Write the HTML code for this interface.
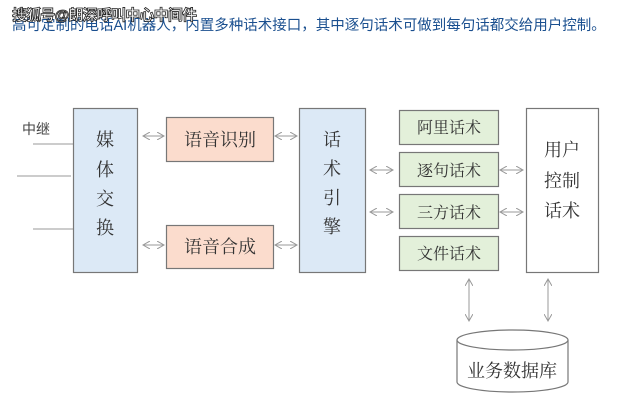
<!DOCTYPE html>
<html><head><meta charset="utf-8"><style>
body{margin:0;width:620px;height:408px;background:#fff;overflow:hidden;position:relative;font-family:"Liberation Sans","Noto Sans CJK SC",sans-serif}
.t{position:absolute;white-space:nowrap}
svg text{font-family:"Liberation Serif","Noto Serif CJK SC",serif}
</style></head><body>
<div class="t" style="left:12px;top:14px;font-size:14.5px;color:#1a4f8f;letter-spacing:0px">高可定制的电话AI机器人，内置多种话术接口，其中逐句话术可做到每句话都交给用户控制。</div>
<div class="t" style="left:12px;top:4px;font-size:15px;font-weight:bold;color:#fff;-webkit-text-stroke:0.8px #222;letter-spacing:-0.8px">搜狐号@朗深呼叫中心中间件</div>
<svg width="620" height="408" style="position:absolute;left:0;top:0">
<defs><marker id="a" markerWidth="8" markerHeight="8" refX="7" refY="4" orient="auto-start-reverse" markerUnits="userSpaceOnUse"><path d="M0,0 L7,4 L0,8" fill="none" stroke="#999" stroke-width="1"/></marker></defs>
<g stroke="#999" stroke-width="1">
<line x1="33" y1="144" x2="73" y2="144"/><line x1="17" y1="176" x2="71" y2="176"/><line x1="33" y1="229" x2="73" y2="229"/>
</g>
<text x="22" y="134" font-size="14" fill="#444" style='font-family:"Liberation Sans","Noto Sans CJK SC",sans-serif'>中继</text>
<g stroke="#777" stroke-width="1.2">
<rect x="73.5" y="108.5" width="64" height="164" fill="#dce9f6"/>
<rect x="166.5" y="117.5" width="107" height="44" fill="#fbdccd"/>
<rect x="166.5" y="225.5" width="107" height="43" fill="#fbdccd"/>
<rect x="299.5" y="108.5" width="66" height="164" fill="#dce9f6"/>
<rect x="399.5" y="110.5" width="99" height="34" fill="#e3f0da"/>
<rect x="399.5" y="152.5" width="99" height="34" fill="#e3f0da"/>
<rect x="399.5" y="194.5" width="99" height="34" fill="#e3f0da"/>
<rect x="399.5" y="236.5" width="99" height="34" fill="#e3f0da"/>
<rect x="526.5" y="108.5" width="72" height="164" fill="#fff"/>
<path d="M457,340 L457,382 A55.5,10 0 0 0 568,382 L568,340" fill="#fff"/>
<ellipse cx="512.5" cy="340" rx="55.5" ry="10" fill="#fff"/>
</g>
<g stroke="#999" stroke-width="1" marker-start="url(#a)" marker-end="url(#a)">
<line x1="143" y1="136" x2="164" y2="136"/><line x1="143" y1="245" x2="164" y2="245"/>
<line x1="275" y1="136" x2="297" y2="136"/><line x1="275" y1="245" x2="297" y2="245"/>
<line x1="370" y1="170" x2="393" y2="170"/><line x1="370" y1="212" x2="393" y2="212"/>
<line x1="500" y1="170" x2="523" y2="170"/><line x1="500" y1="212" x2="523" y2="212"/>
<line x1="469" y1="279" x2="469" y2="321"/><line x1="548" y1="279" x2="548" y2="321"/>
</g>
<g font-size="18" fill="#333" text-anchor="middle">
<text x="105" y="146">媒</text><text x="105" y="176">体</text><text x="105" y="205">交</text><text x="105" y="234">换</text>
<text x="220" y="146">语音识别</text><text x="220" y="253">语音合成</text>
<text x="332" y="146">话</text><text x="332" y="175">术</text><text x="332" y="204">引</text><text x="332" y="233">擎</text>
<text x="562" y="156">用户</text><text x="562" y="187">控制</text><text x="562" y="217">话术</text>
<text x="512" y="377">业务数据库</text>
</g>
<g font-size="16" fill="#333" text-anchor="middle">
<text x="449" y="133">阿里话术</text><text x="449" y="176">逐句话术</text><text x="449" y="218">三方话术</text><text x="449" y="259">文件话术</text>
</g>
</svg>
</body></html>
